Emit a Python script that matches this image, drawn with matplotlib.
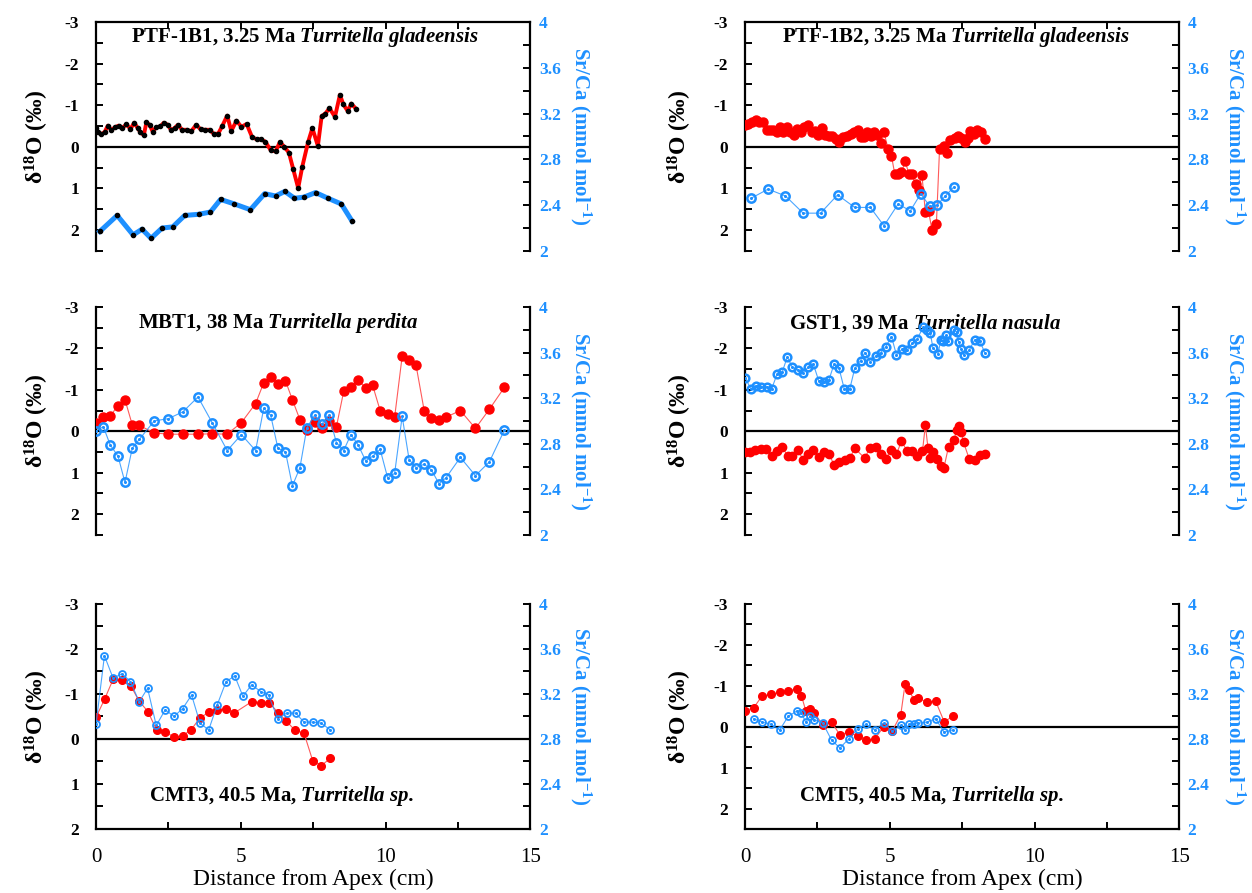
import numpy as np
import matplotlib
matplotlib.use('Agg')
import matplotlib.pyplot as plt

plt.rcParams['font.family'] = ['Liberation Serif', 'DejaVu Serif']
plt.rcParams['mathtext.fontset'] = 'custom'
plt.rcParams['mathtext.rm'] = 'Liberation Serif'
plt.rcParams['mathtext.bf'] = 'Liberation Serif:bold'
plt.rcParams['mathtext.it'] = 'Liberation Serif:italic'
plt.rcParams['mathtext.bfit'] = 'Liberation Serif:italic:bold'

RED = '#ff0000'
BLUE = '#1e90ff'

# PTF-1B1, 3.25 Ma Turritella gladeensis
ptf1_d18o_x = [0, 0.06, 0.18, 0.30, 0.41, 0.53, 0.65, 0.78, 0.90, 1.05,
               1.19, 1.32, 1.44, 1.53, 1.65, 1.74, 1.85, 1.96, 2.07, 2.22,
               2.34, 2.48, 2.59, 2.71, 2.83, 2.97, 3.15, 3.28, 3.46, 3.61,
               3.76, 3.92, 4.07, 4.22, 4.35, 4.53, 4.67, 4.85, 5.02, 5.20,
               5.39, 5.56, 5.71, 5.85, 6.03, 6.20, 6.35, 6.50, 6.66, 6.81,
               6.98, 7.12, 7.32, 7.47, 7.66, 7.79, 7.92, 8.06, 8.25, 8.42,
               8.54, 8.69, 8.81, 8.97]
ptf1_d18o = [-0.45, -0.36, -0.30, -0.36, -0.51, -0.40, -0.47, -0.51, -0.45, -0.54,
             -0.43, -0.58, -0.45, -0.35, -0.28, -0.59, -0.53, -0.36, -0.47, -0.49,
             -0.58, -0.53, -0.40, -0.45, -0.53, -0.41, -0.41, -0.37, -0.53, -0.42,
             -0.41, -0.41, -0.31, -0.32, -0.49, -0.75, -0.38, -0.63, -0.48, -0.55,
             -0.23, -0.18, -0.18, -0.12, 0.08, 0.11, -0.12, 0.0, 0.14, 0.54,
             0.99, 0.48, -0.11, -0.45, -0.02, -0.74, -0.80, -0.93, -0.72, -1.25,
             -1.02, -0.86, -1.04, -0.92]
ptf1_srca_x = [0.13, 0.73, 1.28, 1.59, 1.90, 2.28, 2.65, 3.06, 3.55, 3.95, 4.30,
               4.78, 5.33, 5.82, 6.20, 6.52, 6.85, 7.18, 7.58, 8.01, 8.47, 8.84]
ptf1_srca = [2.17, 2.31, 2.14, 2.19, 2.11, 2.20, 2.21, 2.31, 2.32, 2.34, 2.45,
             2.41, 2.36, 2.50, 2.48, 2.52, 2.46, 2.47, 2.51, 2.46, 2.41, 2.26]

# PTF-1B2, 3.25 Ma Turritella gladeensis
ptf2_d18o_x = [0, 0.11, 0.23, 0.37, 0.48, 0.61, 0.75, 0.86, 0.98, 1.09,
               1.21, 1.32, 1.46, 1.57, 1.69, 1.80, 1.92, 2.05, 2.18, 2.30,
               2.41, 2.53, 2.67, 2.78, 2.90, 3.01, 3.13, 3.25, 3.39, 3.53,
               3.66, 3.77, 3.89, 4.00, 4.11, 4.21, 4.34, 4.45, 4.57, 4.69,
               4.80, 4.94, 5.06, 5.17, 5.29, 5.40, 5.54, 5.66, 5.77, 5.89,
               6.00, 6.11, 6.23, 6.34, 6.46, 6.61, 6.72, 6.86, 6.98, 7.09,
               7.24, 7.36, 7.47, 7.59, 7.70, 7.78, 7.91, 8.02, 8.16, 8.28]
ptf2_d18o = [-0.52, -0.55, -0.60, -0.64, -0.59, -0.59, -0.40, -0.40, -0.40, -0.35,
             -0.48, -0.35, -0.47, -0.35, -0.28, -0.43, -0.35, -0.48, -0.52, -0.35,
             -0.37, -0.28, -0.45, -0.29, -0.27, -0.25, -0.20, -0.12, -0.23, -0.27,
             -0.31, -0.35, -0.40, -0.23, -0.23, -0.35, -0.27, -0.35, -0.28, -0.10,
             -0.35, 0.04, 0.22, 0.64, 0.64, 0.61, 0.35, 0.66, 0.66, 0.90,
             1.04, 0.67, 1.57, 1.55, 2.00, 1.85, 0.04, -0.02, 0.14, -0.17,
             -0.21, -0.25, -0.21, -0.11, -0.21, -0.38, -0.30, -0.41, -0.35, -0.19]
ptf2_srca_x = [0.21, 0.80, 1.40, 2.01, 2.61, 3.20, 3.79, 4.33, 4.80, 5.29,
               5.71, 6.07, 6.38, 6.63, 6.92, 7.22]
ptf2_srca = [2.46, 2.54, 2.48, 2.33, 2.33, 2.49, 2.38, 2.38, 2.22, 2.41,
             2.35, 2.50, 2.39, 2.40, 2.48, 2.56]

# MBT1, 38 Ma Turritella perdita (shared sample positions)
mbt_x = [0, 0.25, 0.49, 0.76, 1.00, 1.25, 1.50, 2.01, 2.50, 3.00,
         3.52, 4.02, 4.53, 5.02, 5.51, 5.79, 6.03, 6.28, 6.54, 6.78,
         7.04, 7.28, 7.55, 7.79, 8.04, 8.30, 8.55, 8.80, 9.05, 9.31,
         9.55, 9.81, 10.07, 10.31, 10.57, 10.81, 11.05, 11.33, 11.58, 11.84,
         12.08, 12.58, 13.10, 13.58, 14.10]
mbt_d18o = [-0.20, -0.34, -0.37, -0.62, -0.76, -0.16, -0.14, 0.04, 0.07, 0.07,
            0.07, 0.06, 0.07, -0.21, -0.67, -1.17, -1.30, -1.15, -1.22, -0.76,
            -0.28, -0.02, -0.22, -0.07, -0.26, -0.11, -0.96, -1.06, -1.24, -1.04,
            -1.11, -0.50, -0.42, -0.34, -1.81, -1.72, -1.59, -0.50, -0.31, -0.28,
            -0.34, -0.50, -0.07, -0.53, -1.06]
mbt_srca = [2.91, 2.95, 2.79, 2.69, 2.46, 2.76, 2.84, 3.00, 3.02, 3.08,
            3.21, 2.98, 2.74, 2.88, 2.74, 3.11, 3.05, 2.76, 2.73, 2.43,
            2.59, 2.94, 3.05, 2.97, 3.05, 2.81, 2.74, 2.88, 2.79, 2.65,
            2.69, 2.75, 2.50, 2.54, 3.04, 2.66, 2.59, 2.62, 2.57, 2.45,
            2.50, 2.68, 2.52, 2.64, 2.92]

# GST1, 39 Ma Turritella nasula
gst_d18o_x = [0, 0.17, 0.34, 0.54, 0.72, 0.92, 1.11, 1.29, 1.47, 1.64,
              1.82, 2.01, 2.18, 2.36, 2.55, 2.74, 2.90, 3.08, 3.25, 3.45,
              3.62, 3.79, 4.14, 4.31, 4.51, 4.69, 4.86, 5.06, 5.23, 5.40,
              5.60, 5.77, 5.95, 6.13, 6.23, 6.32, 6.40, 6.49, 6.64, 6.78,
              6.87, 7.03, 7.21, 7.32, 7.38, 7.47, 7.55, 7.74, 7.93, 8.11, 8.28]
gst_d18o = [0.51, 0.49, 0.44, 0.42, 0.42, 0.60, 0.48, 0.37, 0.60, 0.60,
            0.44, 0.69, 0.54, 0.45, 0.62, 0.51, 0.55, 0.81, 0.73, 0.70,
            0.65, 0.41, 0.65, 0.40, 0.37, 0.55, 0.67, 0.44, 0.56, 0.24,
            0.47, 0.48, 0.59, 0.48, -0.15, 0.41, 0.65, 0.49, 0.68, 0.83,
            0.88, 0.37, 0.21, -0.04, -0.13, 0.02, 0.27, 0.66, 0.69, 0.58, 0.56]
gst_srca_x = [0, 0.21, 0.38, 0.55, 0.75, 0.92, 1.11, 1.29, 1.46, 1.64,
              1.82, 1.99, 2.18, 2.36, 2.55, 2.74, 2.90, 3.08, 3.25, 3.43,
              3.62, 3.79, 3.99, 4.14, 4.33, 4.52, 4.69, 4.86, 5.06, 5.23,
              5.43, 5.60, 5.78, 5.95, 6.15, 6.30, 6.40, 6.49, 6.67, 6.76,
              6.84, 6.93, 7.01, 7.21, 7.32, 7.38, 7.47, 7.55, 7.74, 7.93, 8.11, 8.28]
gst_srca = [3.38, 3.28, 3.31, 3.30, 3.30, 3.28, 3.41, 3.43, 3.56, 3.47,
            3.45, 3.42, 3.47, 3.50, 3.35, 3.34, 3.36, 3.50, 3.46, 3.28,
            3.28, 3.46, 3.53, 3.60, 3.52, 3.57, 3.60, 3.65, 3.74, 3.58,
            3.63, 3.62, 3.68, 3.72, 3.82, 3.80, 3.77, 3.64, 3.59, 3.71,
            3.70, 3.75, 3.70, 3.80, 3.78, 3.69, 3.63, 3.58, 3.62, 3.71, 3.70, 3.60]

# CMT3, 40.5 Ma, Turritella sp.
cmt3_d18o_x = [0, 0.30, 0.60, 0.90, 1.20, 1.49, 1.79, 2.09, 2.39, 2.69,
               2.99, 3.29, 3.59, 3.89, 4.18, 4.48, 4.78, 5.38, 5.70, 5.98,
               6.29, 6.57, 6.87, 7.18, 7.48, 7.78, 8.09]
cmt3_d18o = [-0.48, -0.89, -1.34, -1.30, -1.18, -0.84, -0.61, -0.20, -0.16, -0.04,
             -0.07, -0.21, -0.47, -0.59, -0.64, -0.66, -0.58, -0.83, -0.81, -0.81,
             -0.58, -0.40, -0.19, -0.13, 0.48, 0.59, 0.43]
cmt3_srca_x = [0, 0.29, 0.59, 0.90, 1.19, 1.49, 1.78, 2.08, 2.39, 2.69,
               2.99, 3.30, 3.59, 3.89, 4.18, 4.49, 4.79, 5.07, 5.37, 5.70,
               5.96, 6.27, 6.58, 6.89, 7.18, 7.48, 7.78, 8.09]
cmt3_srca = [2.93, 3.54, 3.34, 3.38, 3.31, 3.13, 3.25, 2.92, 3.06, 3.00,
             3.07, 3.19, 2.94, 2.88, 3.10, 3.31, 3.36, 3.18, 3.28, 3.22,
             3.19, 2.98, 3.03, 3.03, 2.95, 2.95, 2.94, 2.88]

# CMT5, 40.5 Ma, Turritella sp.
cmt5_d18o_x = [0, 0.30, 0.59, 0.90, 1.20, 1.49, 1.80, 1.95, 2.10, 2.25,
               2.40, 2.69, 2.99, 3.28, 3.58, 3.89, 4.19, 4.48, 4.79, 5.09,
               5.38, 5.53, 5.68, 5.83, 5.98, 6.29, 6.58, 6.88, 7.17]
cmt5_d18o = [-0.39, -0.46, -0.75, -0.79, -0.84, -0.87, -0.93, -0.76, -0.39, -0.42,
             -0.33, -0.04, -0.11, 0.20, 0.13, 0.23, 0.33, 0.30, 0.0, 0.10,
             -0.29, -1.05, -0.89, -0.65, -0.70, -0.60, -0.63, -0.12, -0.25]
cmt5_srca_x = cmt5_d18o_x[1:]
cmt5_srca = [2.98, 2.95, 2.93, 2.88, 3.00, 3.05, 3.03, 2.95, 3.00, 2.97,
             2.94, 2.79, 2.72, 2.80, 2.89, 2.93, 2.88, 2.94, 2.87, 2.92,
             2.88, 2.93, 2.93, 2.94, 2.95, 2.98, 2.86, 2.88]


def make_panel(rect, ybottom, xaxis_pos, title, title_xy, lab_l, lab_r):
    ax = fig.add_axes(rect)
    ax.set_xlim(0, 15)
    ax.set_ylim(ybottom, -3)
    ax.axhline(0, color='black', lw=1.6, zorder=1)

    yt = np.arange(-3, ybottom + 0.01, 0.5)
    ax.set_yticks(yt, [f'{v:.0f}' if v == int(v) else '' for v in yt],
                  fontsize=12.5, fontweight='bold')
    ax.tick_params(axis='y', direction='in', length=5, width=1.4, pad=12)
    ax.set_ylabel('δ$^{\\mathbf{18}}$O (‰)', fontsize=17, fontweight='bold',
                  va='center')
    ax.yaxis.set_label_coords(lab_l, 0.5)

    ax2 = ax.twinx()
    ax2.set_ylim(2, 4)
    rt = np.arange(2, 4.01, 0.2)
    ax2.set_yticks(rt, [f'{v:g}' if i % 2 == 0 else '' for i, v in enumerate(rt)],
                   fontsize=12.5, fontweight='bold', color=BLUE)
    ax2.tick_params(axis='y', direction='in', length=5, width=1.4, pad=6)
    ax2.set_ylabel('Sr/Ca (mmol mol$^{\\mathbf{-1}}$)', fontsize=15,
                   fontweight='bold', color=BLUE, rotation=270,
                   ha='center', va='center')
    ax2.yaxis.set_label_coords(lab_r, 0.5)

    for a in (ax, ax2):
        for s in a.spines.values():
            s.set_linewidth(1.6)
            s.set_visible(False)
    ax.spines['left'].set_visible(True)
    ax2.spines['right'].set_visible(True)

    xt = np.arange(0, 15.01, 2.5)
    if xaxis_pos == 'top':
        ax.spines['top'].set_visible(True)
        ax.xaxis.set_ticks_position('top')
        ax.set_xticks(xt, [''] * len(xt))
        ax.tick_params(axis='x', direction='in', length=5, width=1.4)
    elif xaxis_pos == 'bottom':
        ax.spines['bottom'].set_visible(True)
        ax.set_xticks(xt, [f'{v:.0f}' if v % 5 == 0 else '' for v in xt],
                      fontsize=15)
        ax.tick_params(axis='x', direction='in', length=5, width=1.4, pad=14)
        ax.set_xlabel('Distance from Apex (cm)', fontsize=17, labelpad=1)
    else:
        ax.set_xticks([])

    ax.text(title_xy[0], title_xy[1], title, transform=ax.transAxes,
            ha='center', va='center', fontsize=15, fontweight='bold')
    ax2.set_zorder(ax.get_zorder() + 1)
    ax2.patch.set_visible(False)
    return ax, ax2


def thin_series(ax, ax2, xd, d, xs, s, ms=6, mew=1.8):
    ax.plot(xd, d, color='#ff5a5a', lw=0.8, zorder=2)
    ax.plot(xd, d, 'o', color=RED, ms=ms, zorder=3)
    ax2.plot(xs, s, '-', color=BLUE, lw=0.8, alpha=0.8)
    ax2.plot(xs, s, 'o', mfc='none', mec=BLUE, mew=mew, ms=ms - 0.5)
    ax2.plot(xs, s, 'o', color=BLUE, ms=1.2)


fig = plt.figure(figsize=(12.52, 8.93), dpi=100)

L1, L2, W = 0.0767, 0.595, 0.347

ax, ax2 = make_panel([L1, 0.719, W, 0.2564], 2.5, 'top',
                     'PTF-1B1, 3.25 Ma $\\mathbfit{Turritella\\ gladeensis}$',
                     (0.48, 0.935), -0.135, 1.115)
ax.plot(ptf1_d18o_x, ptf1_d18o, color=RED, lw=2.8, zorder=2)
ax.plot(ptf1_d18o_x, ptf1_d18o, 'o', color='black', ms=3, zorder=3)
ax2.plot(ptf1_srca_x, ptf1_srca, color=BLUE, lw=3.6)
ax2.plot(ptf1_srca_x, ptf1_srca, 'o', color='black', ms=3)

ax, ax2 = make_panel([L2, 0.719, W, 0.2564], 2.5, 'top',
                     'PTF-1B2, 3.25 Ma $\\mathbfit{Turritella\\ gladeensis}$',
                     (0.485, 0.935), -0.15, 1.128)
thin_series(ax, ax2, ptf2_d18o_x, ptf2_d18o, ptf2_srca_x, ptf2_srca, ms=6.5)

ax, ax2 = make_panel([L1, 0.401, W, 0.2553], 2.5, None,
                     'MBT1, 38 Ma $\\mathbfit{Turritella\\ perdita}$',
                     (0.42, 0.93), -0.135, 1.115)
thin_series(ax, ax2, mbt_x, mbt_d18o, mbt_x, mbt_srca, ms=6.5)

ax, ax2 = make_panel([L2, 0.401, W, 0.2553], 2.5, None,
                     'GST1, 39 Ma $\\mathbfit{Turritella\\ nasula}$',
                     (0.414, 0.93), -0.15, 1.128)
thin_series(ax, ax2, gst_d18o_x, gst_d18o, gst_srca_x, gst_srca, ms=6)

ax, ax2 = make_panel([L1, 0.0717, W, 0.252], 2, 'bottom',
                     'CMT3, 40.5 Ma, $\\mathbfit{Turritella\\ sp.}$',
                     (0.427, 0.145), -0.135, 1.115)
thin_series(ax, ax2, cmt3_d18o_x, cmt3_d18o, cmt3_srca_x, cmt3_srca, ms=5.5, mew=1.3)

ax, ax2 = make_panel([L2, 0.0717, W, 0.252], 2.5, 'bottom',
                     'CMT5, 40.5 Ma, $\\mathbfit{Turritella\\ sp.}$',
                     (0.428, 0.145), -0.15, 1.128)
thin_series(ax, ax2, cmt5_d18o_x, cmt5_d18o, cmt5_srca_x, cmt5_srca, ms=5.5, mew=1.3)

fig.savefig('out.png', dpi=100)
